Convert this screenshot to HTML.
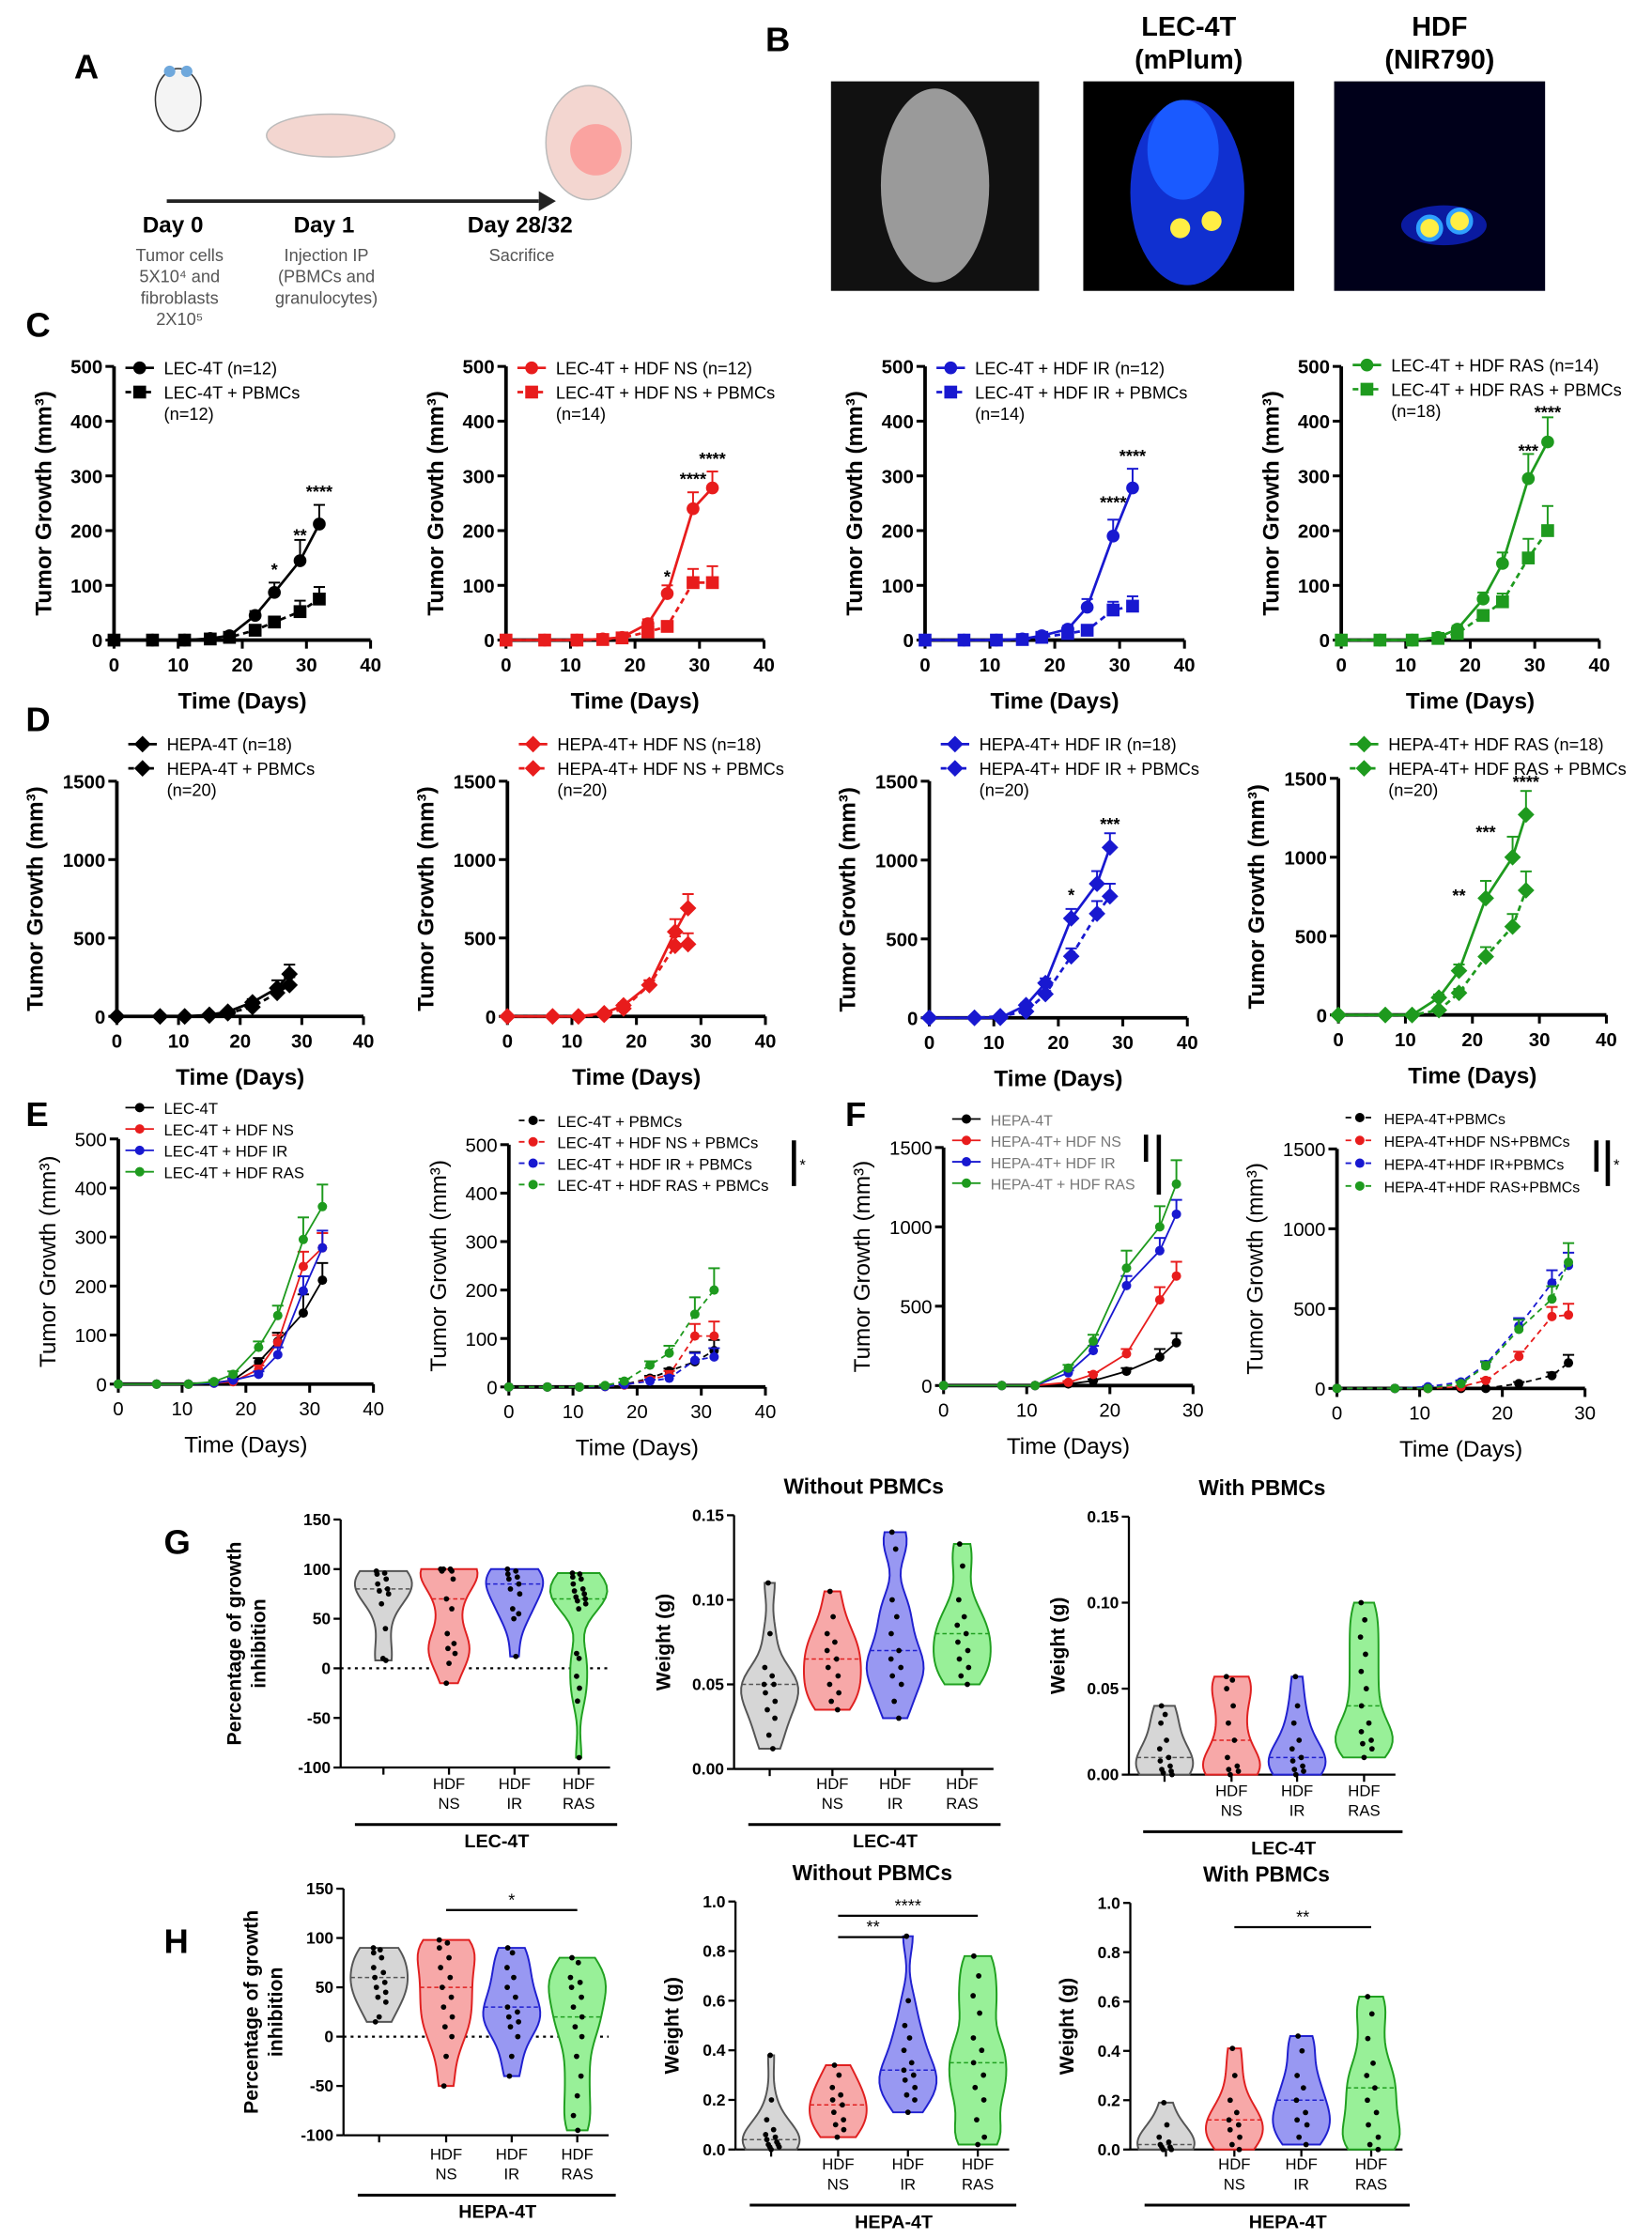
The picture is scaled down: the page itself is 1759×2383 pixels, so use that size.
<!DOCTYPE html>
<html><head><meta charset="utf-8"><style>
html,body{margin:0;padding:0;background:#fff}
svg{display:block}
text{font-family:"Liberation Sans",Arial,sans-serif}
</style></head><body>
<svg id="fig" width="1759" height="2383" viewBox="0 0 1159 1570" xmlns="http://www.w3.org/2000/svg">
<g>
<text x="52" y="55" font-size="24" font-weight="bold">A</text>
<ellipse cx="125" cy="70" rx="16" ry="22" fill="#f4f4f4" stroke="#333"/>
<circle cx="119" cy="50" r="4" fill="#6fa8dc"/><circle cx="131" cy="50" r="4" fill="#6fa8dc"/>
<ellipse cx="232" cy="95" rx="45" ry="15" fill="#f3d6d0" stroke="#bbb"/>
<ellipse cx="413" cy="100" rx="30" ry="40" fill="#f3d6d0" stroke="#bbb"/>
<ellipse cx="418" cy="105" rx="18" ry="18" fill="#ff8080" opacity="0.6"/>
<line x1="117" y1="141" x2="378" y2="141" stroke="#222" stroke-width="2.5"/>
<polygon points="378,134 390,141 378,148" fill="#222"/>
<text x="100" y="163" font-size="16" font-weight="bold">Day 0</text>
<text x="206" y="163" font-size="16" font-weight="bold">Day 1</text>
<text x="328" y="163" font-size="16" font-weight="bold">Day 28/32</text>
<g font-size="12" fill="#555" text-anchor="middle">
<text x="126" y="183">Tumor cells</text><text x="126" y="198">5X10⁴ and</text><text x="126" y="213">fibroblasts</text><text x="126" y="228">2X10⁵</text>
<text x="229" y="183">Injection IP</text><text x="229" y="198">(PBMCs and</text><text x="229" y="213">granulocytes)</text>
<text x="366" y="183">Sacrifice</text></g>
</g>
<g>
<text x="537" y="36" font-size="24" font-weight="bold">B</text>
<rect x="583" y="57" width="146" height="147" fill="#111"/>
<ellipse cx="656" cy="130" rx="38" ry="68" fill="#9a9a9a"/>
<rect x="760" y="57" width="148" height="147" fill="#000"/>
<ellipse cx="833" cy="135" rx="40" ry="65" fill="#1030d0"/>
<ellipse cx="830" cy="105" rx="25" ry="35" fill="#1a5aff"/>
<circle cx="828" cy="160" r="7" fill="#ffee44"/><circle cx="850" cy="155" r="7" fill="#ffee44"/>
<rect x="936" y="57" width="148" height="147" fill="#00001a"/>
<ellipse cx="1013" cy="158" rx="30" ry="14" fill="#0a1aa0"/>
<circle cx="1003" cy="160" r="8" fill="#ffee44" stroke="#2fa0ff" stroke-width="3"/><circle cx="1024" cy="155" r="8" fill="#ffee44" stroke="#2fa0ff" stroke-width="3"/>
<text x="834" y="25" font-size="19" font-weight="bold" text-anchor="middle">LEC-4T</text>
<text x="834" y="48" font-size="19" font-weight="bold" text-anchor="middle">(mPlum)</text>
<text x="1010" y="25" font-size="19" font-weight="bold" text-anchor="middle">HDF</text>
<text x="1010" y="48" font-size="19" font-weight="bold" text-anchor="middle">(NIR790)</text>
</g>
<g font-size="24" font-weight="bold">
<text x="18" y="236">C</text><text x="18" y="513">D</text><text x="18" y="790">E</text><text x="593" y="790">F</text><text x="115" y="1090">G</text><text x="115" y="1370">H</text>
</g>
<g id="charts"></g>
</svg>
<script>
const NS='http://www.w3.org/2000/svg';
const root=document.getElementById('charts');
function el(tag,attrs,parent,txt){const e=document.createElementNS(NS,tag);for(const k in attrs)e.setAttribute(k,attrs[k]);if(txt!==undefined)e.textContent=txt;(parent||root).appendChild(e);return e;}

// ---- data ----
const daysC=[0,6,11,15,18,22,25,29,32];
const c1Solid=[0,0,0,3,8,45,87,145,212], c1Err=[0,0,0,2,4,8,18,38,35];
const c1Dash=[0,0,0,2,5,18,33,52,75], c1DashErr=[0,0,0,1,3,5,5,20,22];
const c2Solid=[0,0,0,2,5,30,85,240,278], c2Err=[0,0,0,2,3,8,15,30,30];
const c2Dash=[0,0,0,1,4,15,25,105,105], c2DashErr=[0,0,0,1,2,5,8,25,30];
const c3Solid=[0,0,0,2,8,20,60,190,278], c3Err=[0,0,0,2,3,6,15,30,35];
const c3Dash=[0,0,0,1,5,12,18,55,62], c3DashErr=[0,0,0,1,2,3,5,15,18];
const c4Solid=[0,0,0,5,20,75,140,295,362], c4Err=[0,0,0,3,6,12,20,45,45];
const c4Dash=[0,0,0,3,12,45,70,150,200], c4DashErr=[0,0,0,2,5,8,15,35,45];
const daysD=[0,7,11,15,18,22,26,28];
const d1Solid=[0,0,0,10,30,90,180,270], d1Err=[0,0,0,5,10,20,50,60];
const d1Dash=[0,0,0,5,20,60,150,200], d1DashErr=[0,0,0,3,8,20,40,50];
const d2Solid=[0,0,0,20,70,200,540,690], d2Err=[0,0,0,8,15,30,80,90];
const d2Dash=[0,0,0,10,50,200,450,460], d2DashErr=[0,0,0,5,12,30,60,70];
const d3Solid=[0,0,0,80,220,630,850,1080], d3Err=[0,0,0,15,30,60,80,90];
const d3Dash=[0,0,10,40,150,390,660,770], d3DashErr=[0,0,5,10,20,50,80,80];
const d4Solid=[0,0,0,110,280,740,1000,1270], d4Err=[0,0,0,20,40,110,130,150];
const d4Dash=[0,0,0,30,140,370,560,790], d4DashErr=[0,0,0,10,25,60,80,120];
const f2Black=[0,0,0,0,0,30,80,160], f2BlackErr=[0,0,0,0,0,10,20,50];
const xticks40=[0,10,20,30,40], xticks30=[0,10,20,30];
const yticks500=[0,100,200,300,400,500], yticks1500=[0,500,1000,1500];

const K='#000',R='#e81c1c',B='#1818d0',G='#1e9a1e';

function lineChart(c){
  const g=el('g',{});
  
  
  const X=v=>c.x0+(v/c.xmax)*(c.x1-c.x0);
  const Y=v=>c.y0-(v/c.ymax)*(c.y0-c.yt);
  const bold=c.bold!==false;
  const lw=c.thin?1.2:1.8;
  el('line',{x1:c.x0,y1:c.y0,x2:c.x0,y2:c.yt,stroke:'#000','stroke-width':2.5},g);
  el('line',{x1:c.x0,y1:c.y0,x2:X(c.xmax),y2:c.y0,stroke:'#000','stroke-width':2.5},g);
  c.yticks.forEach(t=>{el('line',{x1:c.x0-6,y1:Y(t),x2:c.x0,y2:Y(t),stroke:'#000','stroke-width':2},g);
    el('text',{x:c.x0-8,y:Y(t)+5,'font-size':13.5,'font-weight':bold?'bold':'normal','text-anchor':'end'},g,t);});
  c.xticks.forEach(t=>{el('line',{x1:X(t),y1:c.y0,x2:X(t),y2:c.y0+6,stroke:'#000','stroke-width':2},g);
    el('text',{x:X(t),y:c.y0+22,'font-size':13.5,'font-weight':bold?'bold':'normal','text-anchor':'middle'},g,t);});
  el('text',{x:(c.x0+X(c.xmax))/2,y:c.y0+48,'font-size':16,'font-weight':bold?'bold':'normal','text-anchor':'middle'},g,'Time (Days)');
  const ty=(c.y0+c.yt)/2, tx=c.x0-(c.ymax>=1500?52:44);
  el('text',{x:tx,y:ty,'font-size':16,'font-weight':bold?'bold':'normal','text-anchor':'middle',transform:`rotate(-90 ${tx} ${ty})`},g,'Tumor Growth (mm³)');
  c.series.forEach((s,si)=>{
    const sg=el('g',{},g);
    
    
    const pts=s.y.map((v,i)=>X(s.x[i])+','+Y(v)).join(' ');
    el('polyline',{points:pts,fill:'none',stroke:s.color,'stroke-width':lw,'stroke-dasharray':s.dash?'4,3':'none'},sg);
    s.y.forEach((v,i)=>{
      const px=X(s.x[i]),py=Y(v);
      if(s.err&&s.err[i]>0){const ey=Y(v+s.err[i]);
        el('line',{x1:px,y1:py,x2:px,y2:ey,stroke:s.color,'stroke-width':1.3},sg);
        el('line',{x1:px-4,y1:ey,x2:px+4,y2:ey,stroke:s.color,'stroke-width':1.3},sg);}
      drawMarker(sg,s.marker,px,py,s.color,c.thin?3.3:4.5);
    });
  });
  (c.stars||[]).forEach(st=>{el('text',{x:X(st[0]),y:Y(st[1]),'font-size':12,'font-weight':'bold','text-anchor':'middle'},g,st[2]);});
  c.legend.forEach((L,i)=>{
    const ly=c.ly+i*c.lgap+(L.extra||0);
    const lg=el('g',{},g);
    
    
    el('line',{x1:c.lx,y1:ly,x2:c.lx+20,y2:ly,stroke:L.color,'stroke-width':lw,'stroke-dasharray':L.dash?'4,3':'none'},lg);
    drawMarker(lg,L.marker,c.lx+10,ly,L.color,c.thin?3.3:4.5);
    L.text.split('\n').forEach((t,j)=>el('text',{x:c.lx+27,y:ly+4.5+j*15,'font-size':c.lfs||12,fill:L.tcolor||'#000'},lg,t));
  });
  (c.bars||[]).forEach(b=>{el('line',{x1:b[0],y1:b[1],x2:b[0],y2:b[2],stroke:'#000','stroke-width':3},g);
    if(b[3])el('text',{x:b[0]+4,y:(b[1]+b[2])/2+5,'font-size':11},g,b[3]);});
}
function drawMarker(g,m,x,y,col,r){
  if(m==='sq')el('rect',{x:x-r,y:y-r,width:2*r,height:2*r,fill:col},g);
  else if(m==='dia')el('polygon',{points:`${x},${y-r*1.3} ${x+r*1.3},${y} ${x},${y+r*1.3} ${x-r*1.3},${y}`,fill:col},g);
  else el('circle',{cx:x,cy:y,r:r,fill:col},g);
}
function S(key,x,y,err,color,dash,marker){return{key,x,y,err,color,dash,marker};}

const cRow=[[80,260,c1Solid,c1Err,c1Dash,c1DashErr,K,'LEC-4T (n=12)','LEC-4T + PBMCs\n(n=12)',[[25,118,'*'],[29,180,'**'],[32,260,'****']]],
[355,536,c2Solid,c2Err,c2Dash,c2DashErr,R,'LEC-4T + HDF NS (n=12)','LEC-4T + HDF NS + PBMCs\n(n=14)',[[25,105,'*'],[29,283,'****'],[32,320,'****']]],
[649,831,c3Solid,c3Err,c3Dash,c3DashErr,B,'LEC-4T + HDF IR (n=12)','LEC-4T + HDF IR + PBMCs\n(n=14)',[[29,240,'****'],[32,325,'****']]],
[941,1122,c4Solid,c4Err,c4Dash,c4DashErr,G,'LEC-4T + HDF RAS (n=14)','LEC-4T + HDF RAS + PBMCs\n(n=18)',[[29,335,'***'],[32,405,'****']]]];
cRow.forEach((r,i)=>lineChart({name:'chart-c'+(i+1),x0:r[0],x1:r[1],xmax:40,y0:449,yt:257,ymax:500,xticks:xticks40,yticks:yticks500,
  series:[S('solid',daysC,r[2],r[3],r[6],false,'circ'),S('pbmc',daysC,r[4],r[5],r[6],true,'sq')],stars:r[9],
  lx:r[0]+8,ly:i==3?256:258,lgap:17,legend:[{color:r[6],marker:'circ',text:r[7]},{color:r[6],marker:'sq',dash:true,text:r[8]}]}));
const dRow=[[82,255,713,548,d1Solid,d1Err,d1Dash,d1DashErr,K,'HEPA-4T (n=18)','HEPA-4T + PBMCs\n(n=20)',[]],
[356,537,713,548,d2Solid,d2Err,d2Dash,d2DashErr,R,'HEPA-4T+ HDF NS (n=18)','HEPA-4T+ HDF NS + PBMCs\n(n=20)',[]],
[652,833,714,548,d3Solid,d3Err,d3Dash,d3DashErr,B,'HEPA-4T+ HDF IR (n=18)','HEPA-4T+ HDF IR + PBMCs\n(n=20)',[[22,740,'*'],[28,1190,'***']]],
[939,1127,712,546,d4Solid,d4Err,d4Dash,d4DashErr,G,'HEPA-4T+ HDF RAS (n=18)','HEPA-4T+ HDF RAS + PBMCs\n(n=20)',[[18,720,'**'],[22,1120,'***'],[28,1440,'****']]]];
dRow.forEach((r,i)=>lineChart({name:'chart-d'+(i+1),x0:r[0],x1:r[1],xmax:40,y0:r[2],yt:r[3],ymax:1500,xticks:xticks40,yticks:yticks1500,
  series:[S('solid',daysD,r[4],r[5],r[8],false,'dia'),S('pbmc',daysD,r[6],r[7],r[8],true,'dia')],stars:r[11],
  lx:r[0]+8,ly:522,lgap:17,legend:[{color:r[8],marker:'dia',text:r[9]},{color:r[8],marker:'dia',dash:true,text:r[10]}]}));
lineChart({name:'chart-e1',x0:83,x1:262,xmax:40,y0:971,yt:799,ymax:500,xticks:xticks40,yticks:yticks500,bold:false,thin:true,
 series:[S('lec',daysC,c1Solid,c1Err,K,false,'c'),S('ns',daysC,c2Solid,c2Err,R,false,'c'),S('ir',daysC,c3Solid,c3Err,B,false,'c'),S('ras',daysC,c4Solid,c4Err,G,false,'c')],
 lx:88,ly:777,lgap:15,lfs:11,legend:[{color:K,text:'LEC-4T'},{color:R,text:'LEC-4T + HDF NS'},{color:B,text:'LEC-4T + HDF IR'},{color:G,text:'LEC-4T + HDF RAS'}]});
lineChart({name:'chart-e2',x0:357,x1:537,xmax:40,y0:973,yt:803,ymax:500,xticks:xticks40,yticks:yticks500,bold:false,thin:true,
 series:[S('lec',daysC,c1Dash,c1DashErr,K,true,'c'),S('ns',daysC,c2Dash,c2DashErr,R,true,'c'),S('ir',daysC,c3Dash,c3DashErr,B,true,'c'),S('ras',daysC,c4Dash,c4DashErr,G,true,'c')],
 lx:364,ly:786,lgap:15,lfs:11,bars:[[557,800,832,'*']],legend:[{color:K,dash:true,text:'LEC-4T + PBMCs'},{color:R,dash:true,text:'LEC-4T + HDF NS + PBMCs'},{color:B,dash:true,text:'LEC-4T + HDF IR + PBMCs'},{color:G,dash:true,text:'LEC-4T + HDF RAS + PBMCs'}]});
lineChart({name:'chart-f1',x0:662,x1:837,xmax:30,y0:972,yt:805,ymax:1500,xticks:xticks30,yticks:yticks1500,bold:false,thin:true,
 series:[S('hepa',daysD,d1Solid,d1Err,K,false,'c'),S('ns',daysD,d2Solid,d2Err,R,false,'c'),S('ir',daysD,d3Solid,d3Err,B,false,'c'),S('ras',daysD,d4Solid,d4Err,G,false,'c')],
 lx:668,ly:785,lgap:15,lfs:10.5,bars:[[804,796,815,''],[813,796,838,'']],legend:[{color:K,text:'HEPA-4T',tcolor:'#777'},{color:R,text:'HEPA-4T+ HDF NS',tcolor:'#777'},{color:B,text:'HEPA-4T+ HDF IR',tcolor:'#777'},{color:G,text:'HEPA-4T + HDF RAS',tcolor:'#777'}]});
lineChart({name:'chart-f2',x0:938,x1:1112,xmax:30,y0:974,yt:806,ymax:1500,xticks:xticks30,yticks:yticks1500,bold:false,thin:true,
 series:[S('hepa',daysD,f2Black,f2BlackErr,K,true,'c'),S('ns',daysD,d2Dash,d2DashErr,R,true,'c'),S('ir',daysD,d3Dash,d3DashErr,B,true,'c'),S('ras',daysD,d4Dash,d4DashErr,G,true,'c')],
 lx:944,ly:784,lgap:16,lfs:10.5,bars:[[1120,800,822,''],[1128,800,832,'*']],legend:[{color:K,dash:true,text:'HEPA-4T+PBMCs'},{color:R,dash:true,text:'HEPA-4T+HDF NS+PBMCs'},{color:B,dash:true,text:'HEPA-4T+HDF IR+PBMCs'},{color:G,dash:true,text:'HEPA-4T+HDF RAS+PBMCs'}]});

// ---- violins ----
const g1Ctrl=[98,96,95,90,85,80,78,75,65,40,10,8], g1NS=[100,100,98,98,100,90,70,60,35,25,20,15,5,-15], g1IR=[100,98,95,92,90,85,80,75,60,55,50,12], g1RAS=[96,95,92,90,85,80,78,75,72,70,68,65,60,15,10,-8,-20,-33,-90];
const g2Ctrl=[0.11,0.08,0.06,0.055,0.05,0.05,0.045,0.04,0.035,0.03,0.02,0.012], g2NS=[0.105,0.09,0.08,0.075,0.07,0.065,0.06,0.055,0.05,0.045,0.04,0.035], g2IR=[0.14,0.13,0.10,0.09,0.08,0.07,0.065,0.06,0.055,0.05,0.04,0.03], g2RAS=[0.133,0.12,0.10,0.09,0.085,0.08,0.075,0.07,0.065,0.06,0.055,0.05];
const g3Ctrl=[0.04,0.035,0.03,0.02,0.015,0.01,0.008,0.005,0.003,0.002,0.001,0], g3NS=[0.057,0.055,0.05,0.04,0.03,0.02,0.01,0.005,0.003,0.002,0], g3IR=[0.057,0.04,0.03,0.02,0.015,0.01,0.008,0.005,0.003,0.002,0], g3RAS=[0.1,0.09,0.08,0.07,0.06,0.05,0.04,0.03,0.025,0.02,0.018,0.015,0.01];
const h1Ctrl=[90,88,85,80,70,65,60,55,50,45,40,35,20,15], h1NS=[98,95,90,80,70,60,50,40,30,20,10,0,-20,-50], h1IR=[90,85,70,60,50,40,30,25,20,15,10,0,-20,-40], h1RAS=[80,75,60,55,50,40,30,20,10,0,-20,-40,-60,-80,-95];
const h2Ctrl=[0.38,0.2,0.12,0.08,0.06,0.05,0.04,0.03,0.02,0.02,0.01,0.01,0], h2NS=[0.34,0.3,0.25,0.22,0.2,0.18,0.15,0.12,0.1,0.08,0.05], h2IR=[0.86,0.6,0.5,0.45,0.4,0.35,0.32,0.3,0.28,0.25,0.22,0.2,0.15], h2RAS=[0.78,0.7,0.62,0.55,0.45,0.4,0.35,0.3,0.25,0.2,0.12,0.05,0.02];
const h3Ctrl=[0.19,0.1,0.05,0.03,0.02,0.01,0.01,0,0], h3NS=[0.41,0.3,0.2,0.15,0.12,0.1,0.08,0.05,0.02,0], h3IR=[0.46,0.4,0.3,0.25,0.2,0.15,0.12,0.1,0.05,0.02], h3RAS=[0.62,0.55,0.45,0.35,0.3,0.25,0.2,0.15,0.1,0.05,0.02,0];
const catLabels=['','HDF\nNS','HDF\nIR','HDF\nRAS'];
const pctTicks=[-100,-50,0,50,100,150], wTicks015=[0,0.05,0.10,0.15], wTicks1=[0,0.2,0.4,0.6,0.8,1.0];
const VF=['#d6d6d6','#f7a8a8','#9898f2','#98f098'], VS=['#555','#e02020','#2020d0','#20a020'];

function violin(c){
  const g=el('g',{});
  
  
  const Y=v=>c.y0-(v-c.ymin)/(c.ymax-c.ymin)*(c.y0-c.yt);
  const xl=c.cats[0]-(c.lpad||25), xr=c.cats[3]+22;
  el('line',{x1:xl,y1:c.y0,x2:xl,y2:c.yt,stroke:'#000','stroke-width':1.5},g);
  el('line',{x1:xl,y1:c.y0,x2:xr,y2:c.y0,stroke:'#000','stroke-width':1.5},g);
  c.ticks.forEach(t=>{el('line',{x1:xl-5,y1:Y(t),x2:xl,y2:Y(t),stroke:'#000','stroke-width':1.5},g);
    el('text',{x:xl-7,y:Y(t)+4,'font-size':11.5,'font-weight':'bold','text-anchor':'end'},g,c.fmt?c.fmt(t):t);});
  c.cats.forEach(x=>el('line',{x1:x,y1:c.y0,x2:x,y2:c.y0+5,stroke:'#000','stroke-width':1.5},g));
  if(c.zero)el('line',{x1:xl,y1:Y(0),x2:xr,y2:Y(0),stroke:'#000','stroke-width':1.5,'stroke-dasharray':'2,3'},g);
  const tx=xl-(c.ttx||45), ty=(c.y0+c.yt)/2;
  c.ytitle.forEach((t,i)=>el('text',{x:tx+i*17,y:ty,'font-size':14,'font-weight':'bold','text-anchor':'middle',transform:`rotate(-90 ${tx+i*17} ${ty})`},g,t));
  c.groups.forEach((vals,gi)=>{
    const vg=el('g',{},g);
    
    
    const mn=Math.min(...vals),mx=Math.max(...vals),bw=(c.ymax-c.ymin)*0.07;
    const n=30,dens=[];
    for(let k=0;k<=n;k++){const v=mn+(mx-mn)*k/n;let d=0;vals.forEach(p=>{d+=Math.exp(-0.5*((v-p)/bw)**2)});dens.push([v,d]);}
    const dm=Math.max(...dens.map(d=>d[1]));
    const cx=c.cats[gi];
    const left=dens.map(d=>(cx-d[1]/dm*20)+','+Y(d[0])), right=dens.slice().reverse().map(d=>(cx+d[1]/dm*20)+','+Y(d[0]));
    el('polygon',{points:left.concat(right).join(' '),fill:VF[gi],stroke:VS[gi],'stroke-width':1.3},vg);
    const s=vals.slice().sort((a,b)=>a-b),med=s[Math.floor(s.length/2)];
    const dAt=v=>{let d=0;vals.forEach(p=>{d+=Math.exp(-0.5*((v-p)/bw)**2)});return d/dm*20;};
    const w=dAt(med);el('line',{x1:cx-w,y1:Y(med),x2:cx+w,y2:Y(med),stroke:VS[gi],'stroke-width':1,'stroke-dasharray':'3,2'},vg);
    vals.forEach((v,i)=>el('circle',{cx:cx+((i*7)%13-6)*dAt(v)/20,cy:Y(v),r:1.9,fill:'#000'},vg));
  });
  c.cats.forEach((x,i)=>catLabels[i].split('\n').forEach((t,j)=>el('text',{x:x,y:c.y0+c.ld+j*14,'font-size':11,'text-anchor':'middle'},g,t)));
  el('line',{x1:xl+10,y1:c.y0+c.ld+25,x2:xr+5,y2:c.y0+c.ld+25,stroke:'#000','stroke-width':2},g);
  el('text',{x:(xl+xr)/2+15,y:c.y0+c.ld+41,'font-size':13,'font-weight':'bold','text-anchor':'middle'},g,c.group);
  if(c.title)el('text',{x:(xl+xr)/2,y:c.yt-15,'font-size':15,'font-weight':'bold','text-anchor':'middle'},g,c.title);
  (c.sig||[]).forEach(s=>{el('line',{x1:c.cats[s[0]],y1:s[2],x2:c.cats[s[1]],y2:s[2],stroke:'#000','stroke-width':1.5},g);
    el('text',{x:(c.cats[s[0]]+c.cats[s[1]])/2,y:s[2]-3,'font-size':12,'text-anchor':'middle'},g,s[3]);});
}
const f2=t=>t.toFixed(2), f1=t=>t.toFixed(1);
violin({name:'violin-g1',cats:[269,315,361,406],lpad:30,y0:1240,yt:1066,ymin:-100,ymax:150,ticks:pctTicks,zero:true,groups:[g1Ctrl,g1NS,g1IR,g1RAS],ytitle:['Percentage of growth','inhibition'],ttx:70,ld:15,group:'LEC-4T'});
violin({name:'violin-g2',cats:[540,584,628,675],y0:1241,yt:1063,ymin:0,ymax:0.15,ticks:wTicks015,fmt:f2,groups:[g2Ctrl,g2NS,g2IR,g2RAS],ytitle:['Weight (g)'],ttx:45,ld:14,group:'LEC-4T',title:'Without PBMCs'});
violin({name:'violin-g3',cats:[817,864,910,957],y0:1245,yt:1064,ymin:0,ymax:0.15,ticks:wTicks015,fmt:f2,groups:[g3Ctrl,g3NS,g3IR,g3RAS],ytitle:['Weight (g)'],ttx:45,ld:15,group:'LEC-4T',title:'With PBMCs'});
violin({name:'violin-h1',cats:[266,313,359,405],y0:1498,yt:1325,ymin:-100,ymax:150,ticks:pctTicks,zero:true,groups:[h1Ctrl,h1NS,h1IR,h1RAS],ytitle:['Percentage of growth','inhibition'],ttx:60,ld:17,group:'HEPA-4T',sig:[[1,3,1340,'*']]});
violin({name:'violin-h2',cats:[541,588,637,686],y0:1508,yt:1334,ymin:0,ymax:1.0,ticks:wTicks1,fmt:f1,groups:[h2Ctrl,h2NS,h2IR,h2RAS],ytitle:['Weight (g)'],ttx:40,ld:14,group:'HEPA-4T',title:'Without PBMCs',sig:[[1,2,1359,'**'],[1,3,1344,'****']]});
violin({name:'violin-h3',cats:[818,866,913,962],y0:1508,yt:1335,ymin:0,ymax:1.0,ticks:wTicks1,fmt:f1,groups:[h3Ctrl,h3NS,h3IR,h3RAS],ytitle:['Weight (g)'],ttx:40,ld:14,group:'HEPA-4T',title:'With PBMCs',sig:[[1,3,1352,'**']]});
</script>
</body></html>
